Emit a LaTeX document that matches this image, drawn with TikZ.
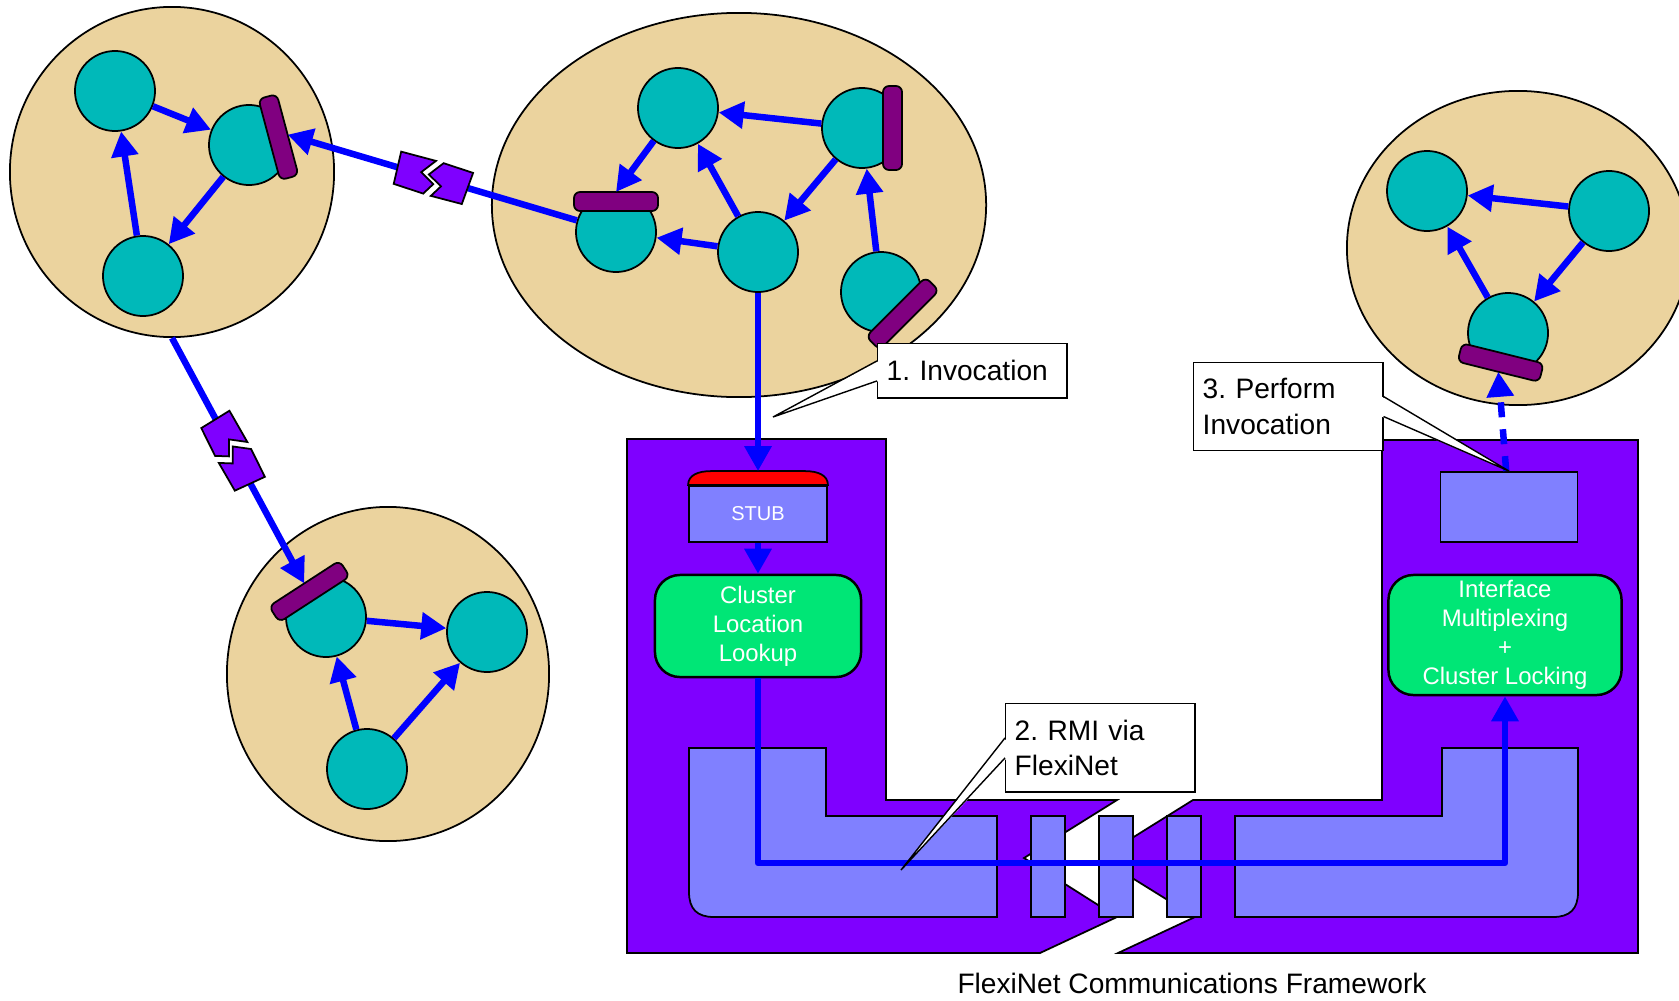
\documentclass[tikz,border=0pt]{standalone}
\usepackage{fontspec}
\setmainfont{Liberation Sans}
\frenchspacing
\usetikzlibrary{arrows.meta,calc,shapes.geometric}
\definecolor{clustertan}{RGB}{235,211,158}
\definecolor{objteal}{RGB}{0,185,185}
\definecolor{barpurple}{RGB}{128,0,128}
\definecolor{fnpurple}{RGB}{127,0,255}
\definecolor{fnlight}{RGB}{128,128,255}
\definecolor{fngreen}{RGB}{0,230,118}

\tikzset{
  cluster/.style={ellipse, draw, fill=clustertan, line width=0.5pt, inner sep=0pt},
  obj/.style={circle, draw, fill=objteal, line width=0.5pt, minimum size=0.8cm, inner sep=0pt},
  ifbar/.style={draw, fill=barpurple, line width=0.5pt, rounded corners=0.06cm},
  brk/.style={draw, fill=fnpurple, line width=0.5pt},
  flow/.style={draw=blue, line width=0.065cm, -{Triangle[length=0.25cm,width=0.26cm]}},
  fnframe/.style={draw, fill=fnpurple, line width=0.5pt},
  fnpart/.style={draw, fill=fnlight, line width=0.5pt},
  module/.style={draw, fill=fngreen, line width=0.7pt, rounded corners=0.25cm, inner ysep=0pt,
    text=white, align=center, font={\fontsize{6.8}{8.3}\selectfont}},
  callout/.style={draw, fill=white, line width=0.4pt, anchor=north west, align=left,
    inner xsep=0.09cm, text width=1.71cm, font={\fontsize{8}{10}\selectfont}},
}

% object with an interface bar: name, centre, direction of the bar
\newcommand{\ifaceobj}[3]{%
  \begin{scope}
    \clip[shift={#2}, rotate=#3] (-50,-50) rectangle (21,50);
    \node[obj] (#1) at #2 {};
  \end{scope}
  \begin{scope}[shift={#2}, rotate=#3]
    \draw[ifbar] (21,-42) rectangle (40,42);
    \coordinate (#1b) at (40,0);
  \end{scope}}

% broken link: centre, direction of the line
\newcommand{\linkbreak}[2]{%
  \begin{scope}[shift={#1}, rotate=#2]
    \fill[white] (-1,-17) -- (-12,-2) -- (3,6) -- (-4,18) -- (4,18) -- (11,6) -- (-4,-2) -- (7,-17) -- cycle;
    \filldraw[brk] (-37,-16) -- (-1,-17) -- (-12,-2) -- (3,6) -- (-4,18) -- (-35,17) -- cycle;
    \filldraw[brk] (7,-17) -- (38,-16) -- (36,17) -- (4,18) -- (11,6) -- (-4,-2) -- cycle;
  \end{scope}}

\begin{document}
\begin{tikzpicture}[x=0.01cm, y=-0.01cm]
  \useasboundingbox (0,0) rectangle (1679,1000);

  % clusters
  \node[cluster, minimum width=3.24cm, minimum height=3.30cm] (cla) at (172,172) {};
  \node[cluster, minimum width=4.94cm, minimum height=3.84cm] (clm) at (739,205) {};
  \node[cluster, minimum width=3.22cm, minimum height=3.34cm] (clb) at (388,674) {};
  \node[cluster, minimum width=3.42cm, minimum height=3.14cm] (clr) at (1518,248) {};

  % objects
  \node[obj] (a1) at (115,91) {};
  \ifaceobj{a2}{(249,145)}{15}
  \node[obj] (a3) at (143,276) {};
  \node[obj] (m1) at (678,108) {};
  \ifaceobj{m2}{(862,128)}{0}
  \ifaceobj{m3}{(616,232)}{90}
  \node[obj] (m4) at (758,252) {};
  \ifaceobj{m5}{(881,292)}{-45}
  \ifaceobj{b1}{(326,617)}{123}
  \node[obj] (b2) at (487,632) {};
  \node[obj] (b3) at (367,769) {};
  \node[obj] (r1) at (1427,191) {};
  \node[obj] (r2) at (1609,211) {};
  \ifaceobj{r3}{(1508,333)}{-104}

  % local calls
  \draw[flow] (a1) -- (a2);
  \draw[flow] (a3) -- (a1);
  \draw[flow] (a2) -- (a3);
  \draw[flow] (m2) -- (m1);
  \draw[flow] (m1) -- (m3b);
  \draw[flow] (m4) -- (m1);
  \draw[flow] (m2) -- (m4);
  \draw[flow] (m4) -- (m3);
  \draw[flow] (m5) -- (m2);
  \draw[flow] (b1) -- (b2);
  \draw[flow] (b3) -- (b1);
  \draw[flow] (b3) -- (b2);
  \draw[flow] (r2) -- (r1);
  \draw[flow] (r3) -- (r1);
  \draw[flow] (r2) -- (r3);

  % remote calls
  \draw[flow] (m3) -- (a2b);
  \linkbreak{($(a2b)!0.44!(m3)$)}{-16.5}
  \draw[flow] (cla.south) -- (b1b);
  \linkbreak{($(cla.south)!0.46!(b1b)$)}{-61.8}

  % framework
  \filldraw[fnframe] (627,439) -- (886,439) -- (886,800) -- (1117,800) -- (1024,858) -- (1117,917) -- (1040,953) -- (627,953) -- cycle;
  \filldraw[fnframe] (1193,800) -- (1382,800) -- (1382,440) -- (1638,440) -- (1638,953) -- (1118,953) -- (1195,917) -- (1100,858) -- cycle;
  \filldraw[fnpart] (689,748) -- (826,748) -- (826,816) -- (997,816) -- (997,917) -- (714,917) .. controls (697,917) and (689,909) .. (689,892) -- cycle;
  \filldraw[fnpart] (1235,816) -- (1442,816) -- (1442,748) -- (1578,748) -- (1578,892) .. controls (1578,909) and (1570,917) .. (1553,917) -- (1235,917) -- cycle;
  \foreach \x in {1031,1099,1167}
    \filldraw[fnpart] (\x,816) rectangle +(34,101);

  \node[fnpart, minimum width=1.38cm, minimum height=0.56cm, inner sep=0pt, text=white,
    font={\fontsize{5.7}{7}\selectfont}] (stub) at (758,514) {STUB};
  \filldraw[fill=red, line width=0.5pt] (stub.north west) .. controls ([yshift=0.1cm]stub.north west) and ([xshift=0.1cm,yshift=0.14cm]stub.north west) .. ([xshift=0.23cm,yshift=0.14cm]stub.north west)
    -- ([xshift=-0.23cm,yshift=0.14cm]stub.north east) .. controls ([xshift=-0.1cm,yshift=0.14cm]stub.north east) and ([yshift=0.1cm]stub.north east) .. (stub.north east) -- cycle;
  \coordinate (stubtop) at ([yshift=0.14cm]stub.north);
  \node[fnpart, minimum width=1.37cm, minimum height=0.70cm, inner sep=0pt] (skel) at (1509,507) {};
  \node[module, minimum width=2.06cm, minimum height=1.02cm] (cll) at (758,626) {Cluster\\Location\\Lookup};
  \node[module, minimum width=2.33cm, minimum height=1.20cm] (imcl) at (1505,635) {Interface\\Multiplexing\\+\\Cluster Locking};
  \coordinate (bend) at (1505,863);

  \draw[flow] (m4) -- (stubtop);
  \draw[flow] (stub) -- (cll);
  \draw[flow, line join=round] (cll) |- (bend) -- (imcl);
  \draw[flow, dash pattern=on 0.15cm off 0.12cm] (skel) -- (r3b);

  \node[font={\fontsize{8}{10}\selectfont}] (fncap) at (1192,983) {FlexiNet Communications Framework};

  % callouts
  \node[callout, minimum height=0.544cm] (inv1) at (877,343) {1. Invocation};
  \node[callout, minimum height=0.884cm] (inv2) at (1005,703) {2. RMI via\\FlexiNet};
  \node[callout, minimum height=0.876cm] (inv3) at (1193,362) {3. Perform\\Invocation};
  \coordinate (tip1) at (773,417);
  \coordinate (tip2) at (901,870);
  \fill[white] ([shift={(0.02cm,0.1cm)}]inv1.west) -- (tip1) -- ([shift={(0.02cm,-0.1cm)}]inv1.west) -- cycle;
  \draw[line width=0.4pt] ([yshift=0.1cm]inv1.west) -- (tip1) -- ([yshift=-0.1cm]inv1.west);
  \fill[white] ([shift={(0.02cm,0.1cm)}]inv2.west) -- (tip2) -- ([shift={(0.02cm,-0.1cm)}]inv2.west) -- cycle;
  \draw[line width=0.4pt] ([yshift=0.1cm]inv2.west) -- (tip2) -- ([yshift=-0.1cm]inv2.west);
  \fill[white] ([shift={(-0.02cm,0.1cm)}]inv3.east) -- (skel.north) -- ([shift={(-0.02cm,-0.1cm)}]inv3.east) -- cycle;
  \draw[line width=0.4pt] ([yshift=0.1cm]inv3.east) -- (skel.north) -- ([yshift=-0.1cm]inv3.east);
\end{tikzpicture}
\end{document}
